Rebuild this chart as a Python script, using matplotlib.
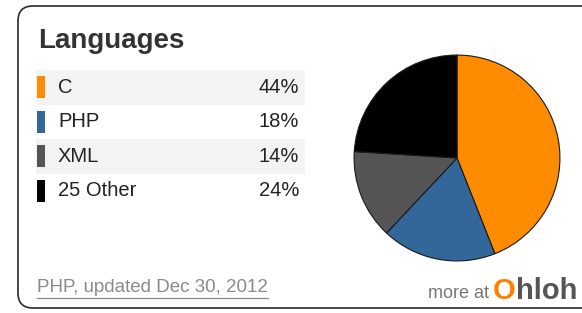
import matplotlib.pyplot as plt
from matplotlib.patches import FancyBboxPatch, Rectangle

languages = ['C', 'PHP', 'XML', '25 Other']
percents = [44, 18, 14, 24]
colors = ['#ff8c00', '#336699', '#555555', '#000000']
footer = 'PHP, updated Dec 30, 2012'

W, H = 582, 313
plt.rcParams['font.family'] = ['Liberation Sans', 'DejaVu Sans']

fig = plt.figure(figsize=(W / 100, H / 100), dpi=100)
ax = fig.add_axes([0, 0, 1, 1])
ax.set_xlim(0, W)
ax.set_ylim(H, 0)
ax.axis('off')

# rounded frame (right side runs off the image)
ax.add_patch(FancyBboxPatch((18, 6), 600, 302, boxstyle='round,pad=0,rounding_size=15',
                            fc='white', ec='#2a2a2a', lw=1.2))

ax.text(38, 41, 'Languages', fontsize=20, fontweight='bold', color='#333333', va='center')

row_top, row_h = 70, 34.5
for i, (lang, pct, col) in enumerate(zip(languages, percents, colors)):
    y0 = row_top + i * row_h
    yc = y0 + row_h / 2
    if i % 2 == 0:
        ax.add_patch(Rectangle((36, y0), 269, row_h, fc='#f3f3f3', ec='none'))
    ax.add_patch(Rectangle((37, yc - 11), 8, 22, fc=col, ec='none'))
    ax.text(58, yc, lang, fontsize=14.5, color='#222222', va='center')
    ax.text(299, yc, f'{pct}%', fontsize=14.5, color='#222222', va='center', ha='right')

# footer link
t = ax.text(37, 288, footer, fontsize=13.5, color='#8a8a8a', va='center')
fig.canvas.draw()
bb = t.get_window_extent().transformed(ax.transData.inverted())
ax.plot([bb.x0, bb.x1], [298, 298], color='#8a8a8a', lw=0.9)

# "more at Ohloh"
h = ax.text(577, 291, 'hloh', fontsize=21, fontweight='bold', color='#555555', va='center', ha='right')
fig.canvas.draw()
hb = h.get_window_extent().transformed(ax.transData.inverted())
o = ax.text(hb.x0, 291, 'O', fontsize=21, fontweight='bold', color='#ff7f00', va='center', ha='right')
fig.canvas.draw()
ob = o.get_window_extent().transformed(ax.transData.inverted())
ax.text(ob.x0 - 4, 293, 'more at', fontsize=13, color='#777777', va='center', ha='right')

# pie
cx, cy, r = 457, 158, 105
pax = fig.add_axes([(cx - r) / W, (H - cy - r) / H, 2 * r / W, 2 * r / H])
pax.pie(percents, colors=colors, startangle=90, counterclock=False,
        wedgeprops=dict(edgecolor='#1a1a1a', linewidth=0.8))
pax.set_aspect('equal')
pax.set_xlim(-1.02, 1.02)
pax.set_ylim(-1.02, 1.02)

fig.savefig('out.png', dpi=100)
